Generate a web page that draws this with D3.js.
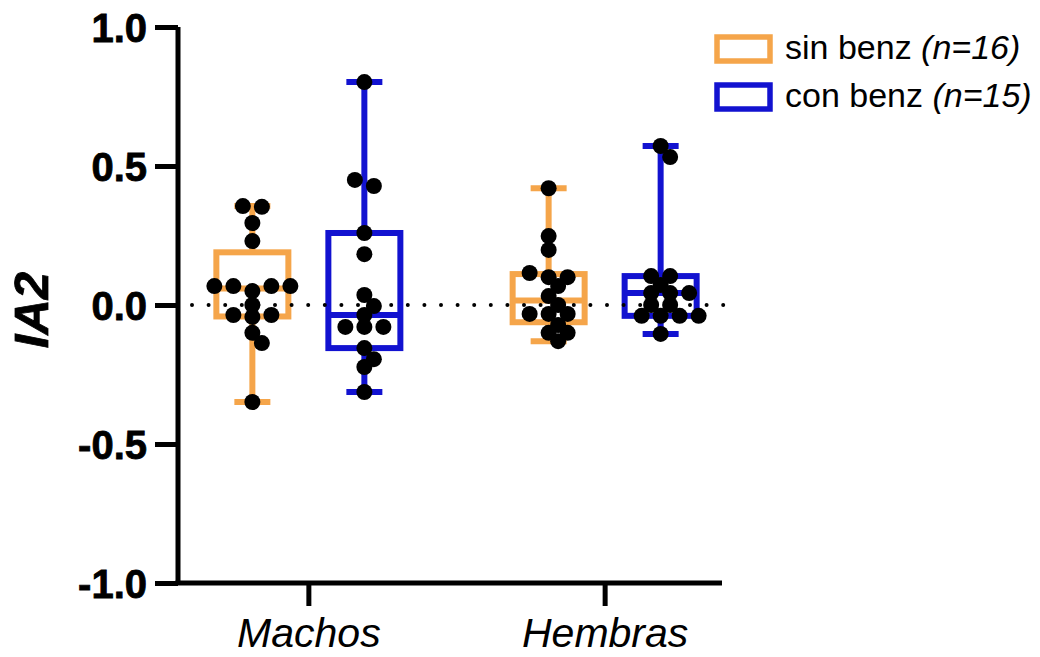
<!DOCTYPE html>
<html>
<head>
<meta charset="utf-8">
<script src="https://cdn.jsdelivr.net/npm/d3@7"></script>
<style>
  html, body { margin: 0; padding: 0; background: #fff; }
  svg { display: block; font-family: "Liberation Sans", Arial, sans-serif; }
</style>
</head>
<body>
<svg id="chart" width="1040" height="657"></svg>
<script>
// Groups on the x axis and the two treatments within each group
const groups = ["Machos", "Hembras"];
const treatments = ["sin", "con"];
const treatmentLabels = ["sin benz", "con benz"];
const treatmentN = ["(n=16)", "(n=15)"];
const treatmentColors = ["#F5A54A", "#1212D0"];

// IA2 values per animal
const machosSin = [0.356, 0.353, 0.295, 0.23, 0.068, 0.068, 0.068, 0.068, 0.05, 0.0,
                   -0.036, -0.036, -0.043, -0.1, -0.137, -0.349];
const machosCon = [0.802, 0.45, 0.428, 0.259, 0.183, 0.036, -0.004, -0.036, -0.079, -0.079,
                   -0.079, -0.155, -0.195, -0.223, -0.313];
const hembrasSin = [0.42, 0.248, 0.198, 0.115, 0.1, 0.1, 0.068, 0.032, 0.0, -0.032,
                    -0.032, -0.032, -0.072, -0.1, -0.1, -0.13];
const hembrasCon = [0.572, 0.532, 0.104, 0.104, 0.072, 0.043, 0.043, 0.043, 0.0, 0.0,
                    -0.039, -0.039, -0.039, -0.039, -0.104];

const yTicks = [-1.0, -0.5, 0.0, 0.5, 1.0];

const series = [
  { group: "Machos", treatment: "sin", values: machosSin },
  { group: "Machos", treatment: "con", values: machosCon },
  { group: "Hembras", treatment: "sin", values: hembrasSin },
  { group: "Hembras", treatment: "con", values: hembrasCon }
];

const svg = d3.select("#chart");
const axisLeft = 178, axisRight = 722, axisTop = 27, axisBottom = 583;

const y = d3.scaleLinear().domain([-1, 1]).range([axisBottom, axisTop]);
const x = d3.scalePoint().domain(groups).range([axisLeft, 735]).padding(0.44);
const xSub = d3.scalePoint().domain(treatments).range([-56, 56]);
const color = d3.scaleOrdinal().domain(treatments).range(treatmentColors);

// Quartiles using the (n+1)p rule
function quant(sorted, p) {
  const n = sorted.length;
  let pos = p * (n + 1);
  if (pos < 1) pos = 1;
  if (pos > n) pos = n;
  const lo = Math.floor(pos), frac = pos - lo;
  const a = sorted[lo - 1], b = sorted[Math.min(lo, n - 1)];
  return a + frac * (b - a);
}

// Row-based scatter layout: nearly equal values share a centred row,
// and a row is nudged sideways when it would sit on top of earlier points.
function swarm(values, step, rowGap, minDist) {
  const pts = values.map(v => ({ v, py: y(v) })).sort((a, b) => a.py - b.py);
  const rows = [];
  pts.forEach(p => {
    const last = rows[rows.length - 1];
    if (last && p.py - last[0].py < rowGap) last.push(p); else rows.push([p]);
  });
  const placed = [];
  rows.forEach(row => {
    row.sort((a, b) => a.v - b.v);
    const m = row.length;
    const slots = d3.range(m).map(i => (i - (m - 1) / 2) * step)
      .sort((a, b) => Math.abs(a) - Math.abs(b) || b - a);
    const shifts = [0];
    for (let k = 1; k < 12; k++) shifts.push(k * step / 2, -k * step / 2);
    for (const sh of shifts) {
      const hit = row.some((p, i) => placed.some(q =>
        Math.hypot(q.dx - (slots[i] + sh), q.py - p.py) < minDist));
      if (!hit) { row.forEach((p, i) => { p.dx = slots[i] + sh; }); break; }
    }
    row.forEach(p => placed.push(p));
  });
  return placed;
}

const boxW = 72, capW = 36, lw = 6, r = 8;

// Boxes and whiskers
series.forEach(s => {
  const cx = x(s.group) + xSub(s.treatment);
  const sorted = s.values.slice().sort((a, b) => a - b);
  const q1 = quant(sorted, 0.25), med = quant(sorted, 0.5), q3 = quant(sorted, 0.75);
  const lo = sorted[0], hi = sorted[sorted.length - 1];
  const g = svg.append("g").attr("stroke", color(s.treatment)).attr("stroke-width", lw).attr("fill", "none");
  g.append("line").attr("x1", cx).attr("x2", cx).attr("y1", y(hi)).attr("y2", y(q3));
  g.append("line").attr("x1", cx).attr("x2", cx).attr("y1", y(q1)).attr("y2", y(lo));
  g.append("line").attr("x1", cx - capW / 2).attr("x2", cx + capW / 2).attr("y1", y(hi)).attr("y2", y(hi));
  g.append("line").attr("x1", cx - capW / 2).attr("x2", cx + capW / 2).attr("y1", y(lo)).attr("y2", y(lo));
  g.append("rect").attr("x", cx - boxW / 2).attr("y", y(q3)).attr("width", boxW).attr("height", y(q1) - y(q3));
  g.append("line").attr("x1", cx - boxW / 2).attr("x2", cx + boxW / 2).attr("y1", y(med)).attr("y2", y(med));
});

// Dotted reference line at zero
svg.append("line")
  .attr("x1", 192).attr("x2", 738).attr("y1", y(0)).attr("y2", y(0))
  .attr("stroke", "#000").attr("stroke-width", 4).attr("stroke-linecap", "round")
  .attr("stroke-dasharray", "0 16.6");

// Individual points
series.forEach(s => {
  const cx = x(s.group) + xSub(s.treatment);
  const pts = swarm(s.values, 19, 6.5, 11.5);
  svg.append("g").selectAll("circle").data(pts).join("circle")
    .attr("cx", d => cx + d.dx).attr("cy", d => y(d.v)).attr("r", r).attr("fill", "#000");
});

// Y axis
const yAxis = d3.axisLeft(y).tickValues(yTicks).tickSize(23).tickPadding(8)
  .tickFormat(d => d3.format(".1f")(d).replace("\u2212", "-"));
const gy = svg.append("g").attr("transform", `translate(${axisLeft},0)`).call(yAxis);
gy.select(".domain").attr("d", `M0,${axisTop}V${axisBottom}`).attr("stroke-width", 5);
gy.selectAll(".tick line").attr("stroke-width", 5);
gy.selectAll(".tick text").attr("font-size", 40).attr("font-weight", "bold")
  .attr("font-family", "Liberation Sans, Arial, sans-serif").attr("fill", "#000")
  .attr("stroke", "#000").attr("stroke-width", 0.8).attr("dy", "0.36em");

// X axis
const xAxis = d3.axisBottom(x).tickSize(23).tickPadding(12);
const gx = svg.append("g").attr("transform", `translate(0,${axisBottom})`).call(xAxis);
gx.select(".domain").attr("d", `M${axisLeft - 2.5},0H${axisRight}`).attr("stroke-width", 5);
gx.selectAll(".tick line").attr("stroke-width", 5);
gx.selectAll(".tick text").attr("font-size", 41).attr("font-style", "italic")
  .attr("font-family", "Liberation Sans, Arial, sans-serif").attr("fill", "#000");

// Y axis title
svg.append("text")
  .attr("transform", `translate(48,310) rotate(-90)`)
  .attr("text-anchor", "middle")
  .attr("font-size", 49).attr("font-weight", "bold").attr("font-style", "italic")
  .attr("stroke", "#000").attr("stroke-width", 0.8)
  .text("IA2");

// Legend
const legend = svg.append("g");
treatments.forEach((t, i) => {
  const ly = 37 + i * 48;
  legend.append("rect").attr("x", 717).attr("y", ly).attr("width", 53).attr("height", 24)
    .attr("fill", "none").attr("stroke", color(t)).attr("stroke-width", 5.5);
  const txt = legend.append("text").attr("x", 785).attr("y", ly + 22).attr("font-size", 34);
  txt.append("tspan").text(treatmentLabels[i] + " ");
  txt.append("tspan").attr("font-style", "italic").text(treatmentN[i]);
});
</script>
</body>
</html>
